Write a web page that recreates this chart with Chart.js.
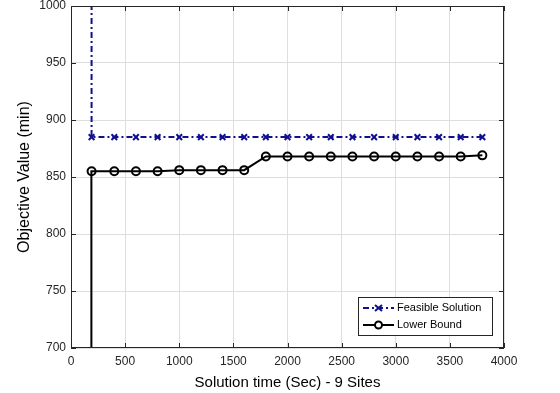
<!DOCTYPE html>
<html>
<head>
<meta charset="utf-8">
<script src="https://cdn.jsdelivr.net/npm/chart.js@4/dist/chart.umd.min.js"></script>
<style>
  html, body { margin: 0; padding: 0; background: #fff; }
  #wrap { width: 560px; height: 393px; }
</style>
</head>
<body>
<div id="wrap"><canvas id="chart" width="560" height="393"></canvas></div>
<script>
// series
var seriesNames   = ['Feasible Solution', 'Lower Bound'];
var feasibleTime  = [190, 190, 400, 600, 800, 1000, 1200, 1400, 1600, 1800, 2000, 2200, 2400, 2600, 2800, 3000, 3200, 3400, 3600, 3800];
var feasibleValue = [1100, 885, 885, 885, 885, 885, 885, 885, 885, 885, 885, 885, 885, 885, 885, 885, 885, 885, 885, 885];
var lowerTime     = [185, 185, 190, 190, 400, 600, 800, 1000, 1200, 1400, 1600, 1800, 2000, 2200, 2400, 2600, 2800, 3000, 3200, 3400, 3600, 3800];
var lowerValue    = [690, 760, 760, 855, 855, 855, 855, 856, 856, 856, 856, 868, 868, 868, 868, 868, 868, 868, 868, 868, 868, 869];
var xTicks        = [0, 500, 1000, 1500, 2000, 2500, 3000, 3500, 4000];
var yTicks        = [700, 750, 800, 850, 900, 950, 1000];

var blue = '#10108f';
var font = 'Liberation Sans, Arial, sans-serif';

function toPoints(xs, ys) {
  return xs.map(function(x, i) { return { x: x, y: ys[i] }; });
}

// first point of feasible line and the bottom steps of lower bound carry no marker
var feasibleRadius = feasibleTime.map(function(t, i) { return i === 0 ? 0 : 4; });
var lowerRadius    = lowerTime.map(function(t, i) { return i < 3 ? 0 : 4; });

// box, inward ticks and legend drawn the MATLAB way
var matlabFrame = {
  id: 'matlabFrame',
  afterDatasetsDraw: function(chart) {
    var ctx = chart.ctx, a = chart.chartArea;
    var xs = chart.scales.x, ys = chart.scales.y;
    ctx.save();
    ctx.strokeStyle = '#262626';
    ctx.lineWidth = 1;
    ctx.strokeRect(a.left + 0.5, a.top + 0.5, a.right - a.left - 1, a.bottom - a.top - 1);
    ctx.beginPath();
    xTicks.forEach(function(v) {
      var p = Math.round(xs.getPixelForValue(v)) + 0.5;
      ctx.moveTo(p, a.bottom); ctx.lineTo(p, a.bottom - 5);
      ctx.moveTo(p, a.top);    ctx.lineTo(p, a.top + 5);
    });
    yTicks.forEach(function(v) {
      var p = Math.round(ys.getPixelForValue(v)) + 0.5;
      ctx.moveTo(a.left, p);  ctx.lineTo(a.left + 5, p);
      ctx.moveTo(a.right, p); ctx.lineTo(a.right - 5, p);
    });
    ctx.stroke();

    // legend box
    var lx = 358, ly = 297, lw = 134, lh = 38;
    ctx.fillStyle = '#fff';
    ctx.fillRect(lx, ly, lw, lh);
    ctx.strokeStyle = '#262626';
    ctx.strokeRect(lx + 0.5, ly + 0.5, lw, lh);

    ctx.font = '11px ' + font;
    ctx.textBaseline = 'middle';
    ctx.fillStyle = '#000';

    // feasible sample
    var y1 = ly + 11;
    ctx.strokeStyle = blue; ctx.lineWidth = 2;
    ctx.setLineDash([6, 3, 2, 3]);
    ctx.beginPath(); ctx.moveTo(lx + 5, y1); ctx.lineTo(lx + 36, y1); ctx.stroke();
    ctx.setLineDash([]);
    ctx.beginPath();
    ctx.moveTo(lx + 17, y1 - 3); ctx.lineTo(lx + 24, y1 + 3);
    ctx.moveTo(lx + 24, y1 - 3); ctx.lineTo(lx + 17, y1 + 3);
    ctx.stroke();
    ctx.fillText(seriesNames[0], lx + 39, y1);

    // lower bound sample
    var y2 = ly + 28;
    ctx.strokeStyle = '#000';
    ctx.beginPath(); ctx.moveTo(lx + 5, y2); ctx.lineTo(lx + 36, y2); ctx.stroke();
    ctx.beginPath(); ctx.arc(lx + 20.5, y2, 3.5, 0, Math.PI * 2); ctx.fillStyle = '#fff'; ctx.fill(); ctx.stroke();
    ctx.fillStyle = '#000';
    ctx.fillText(seriesNames[1], lx + 39, y2);
    ctx.restore();
  }
};

new Chart(document.getElementById('chart').getContext('2d'), {
  type: 'scatter',
  data: {
    datasets: [{
      label: seriesNames[0],
      data: toPoints(feasibleTime, feasibleValue),
      showLine: true,
      borderColor: blue,
      backgroundColor: blue,
      borderWidth: 2,
      borderDash: [6, 3, 2, 3],
      pointStyle: 'crossRot',
      pointRadius: feasibleRadius,
      pointBorderWidth: 2,
      pointBorderColor: blue
    }, {
      label: seriesNames[1],
      data: toPoints(lowerTime, lowerValue),
      showLine: true,
      borderColor: '#000',
      backgroundColor: 'rgba(255,255,255,0)',
      borderWidth: 2,
      pointStyle: 'circle',
      pointRadius: lowerRadius,
      pointBorderWidth: 2,
      pointBackgroundColor: 'rgba(255,255,255,0)',
      pointBorderColor: '#000'
    }]
  },
  options: {
    responsive: false,
    animation: false,
    layout: { padding: { top: 5, right: 56, left: 0, bottom: 0 } },
    plugins: {
      legend: { display: false },
      tooltip: { enabled: false }
    },
    scales: {
      x: {
        type: 'linear',
        min: 0, max: 4000,
        afterBuildTicks: function(s) { s.ticks = xTicks.map(function(v) { return { value: v }; }); },
        afterFit: function(s) { s.height = 45; s.paddingLeft = 0; s.paddingRight = 0; },
        grid: { color: '#dedede', drawTicks: false },
        border: { display: false },
        ticks: {
          color: '#262626', padding: 6, maxRotation: 0,
          font: { family: font, size: 12 },
          callback: function(v) { return String(v); }
        },
        title: { display: true, text: 'Solution time (Sec) - 9 Sites', color: '#000', padding: { top: 0, bottom: 1 }, font: { family: font, size: 15 } }
      },
      y: {
        type: 'linear',
        min: 700, max: 1000,
        afterBuildTicks: function(s) { s.ticks = yTicks.map(function(v) { return { value: v }; }); },
        afterFit: function(s) { s.width = 71; s.paddingTop = 0; s.paddingBottom = 0; },
        grid: { color: '#dedede', drawTicks: false },
        border: { display: false },
        ticks: {
          color: '#262626', padding: 5,
          font: { family: font, size: 12 },
          callback: function(v) { return String(v); }
        },
        title: { display: true, text: 'Objective Value (min)', color: '#000', padding: { top: 15, bottom: 0 }, font: { family: font, size: 16 } }
      }
    }
  },
  plugins: [matlabFrame]
});
</script>
</body>
</html>
